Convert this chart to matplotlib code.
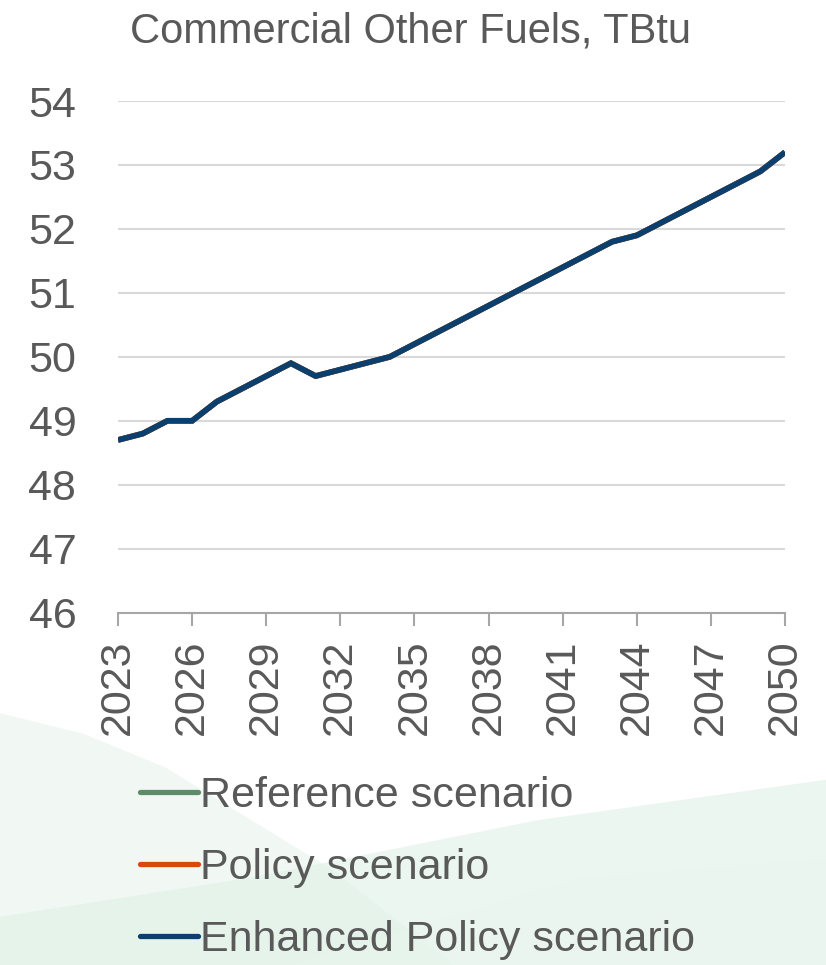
import matplotlib
matplotlib.use("Agg")
import matplotlib.pyplot as plt
from matplotlib.patches import Polygon

years = list(range(2023, 2051))
enhanced = [48.7, 48.8, 49.0, 49.0, 49.3, 49.5, 49.7, 49.9, 49.7, 49.8,
            49.9, 50.0, 50.2, 50.4, 50.6, 50.8, 51.0, 51.2, 51.4, 51.6,
            51.8, 51.9, 52.1, 52.3, 52.5, 52.7, 52.9, 53.2]
reference = list(enhanced)
policy = list(enhanced)
series_names = ["Reference scenario", "Policy scenario", "Enhanced Policy scenario"]
series_colors = ["#5E8C68", "#D9480F", "#0B3F6E"]
x_ticks = list(range(2023, 2051, 3))
y_ticks = list(range(46, 55))
title = "Commercial Other Fuels, TBtu"

txt = "#595959"

fig = plt.figure(figsize=(8.26, 9.65), dpi=100)
fig.patch.set_facecolor("white")

# soft green background swooshes (fig coords: y = 1 - px/965)
bg = [
    ([(0, 0.261), (0.10, 0.24), (0.20, 0.205), (0.40, 0.10), (0.55, 0.0), (0, 0.0)], "#E4F3EB", 0.5),
    ([(0, 0.05), (0.30, 0.09), (0.65, 0.15), (1.0, 0.192), (1.0, 0.0), (0, 0.0)], "#DCEFE5", 0.55),
    ([(0.35, 0.0), (0.70, 0.09), (1.0, 0.11), (1.0, 0.0)], "#E8F5EE", 0.5),
]
for pts, c, a in bg:
    fig.patches.append(Polygon(pts, closed=True, transform=fig.transFigure,
                               facecolor=c, edgecolor="none", alpha=a, zorder=0))

ax = fig.add_axes([0.1429, 0.3651, 0.8075, 0.5302])
ax.set_facecolor("none")
data = [reference, policy, enhanced]
for vals, name, col in zip(data, series_names, series_colors):
    ax.plot(years, vals, color=col, lw=4.1, label=name, solid_capstyle="butt",
            solid_joinstyle="miter")

ax.set_xlim(2023, 2050)
ax.set_ylim(46, 54)
ax.set_xticks(x_ticks)
ax.set_yticks(y_ticks)
ax.grid(axis="y", color="#D9D9D9", lw=1.5)
ax.set_axisbelow(True)
for s in ["left", "right", "top"]:
    ax.spines[s].set_visible(False)
ax.spines["bottom"].set_color("#A6A6A6")
ax.spines["bottom"].set_linewidth(1.5)
ax.tick_params(axis="x", direction="out", length=9, width=1.5, color="#A6A6A6",
               labelsize=31, labelcolor=txt, pad=10, labelrotation=90)
ax.tick_params(axis="y", length=0, labelsize=31, labelcolor=txt, pad=30)
for lab in ax.get_xticklabels() + ax.get_yticklabels():
    lab.set_fontfamily("Liberation Sans")

fig.text(0.497, 0.967, title, ha="center", va="center", fontsize=30,
         color=txt, family="Liberation Sans")

leg = fig.legend(loc="upper left", bbox_to_anchor=(0.1695, 0.196), frameon=False,
                 prop={"family": "Liberation Sans", "size": 31}, labelcolor=txt,
                 handlelength=1.35, handletextpad=0.05, labelspacing=0.75,
                 borderaxespad=0, borderpad=0)
for h in leg.get_lines():
    h.set_linewidth(3.8)
    h.set_solid_capstyle("round")

fig.savefig("out.png", dpi=100)
